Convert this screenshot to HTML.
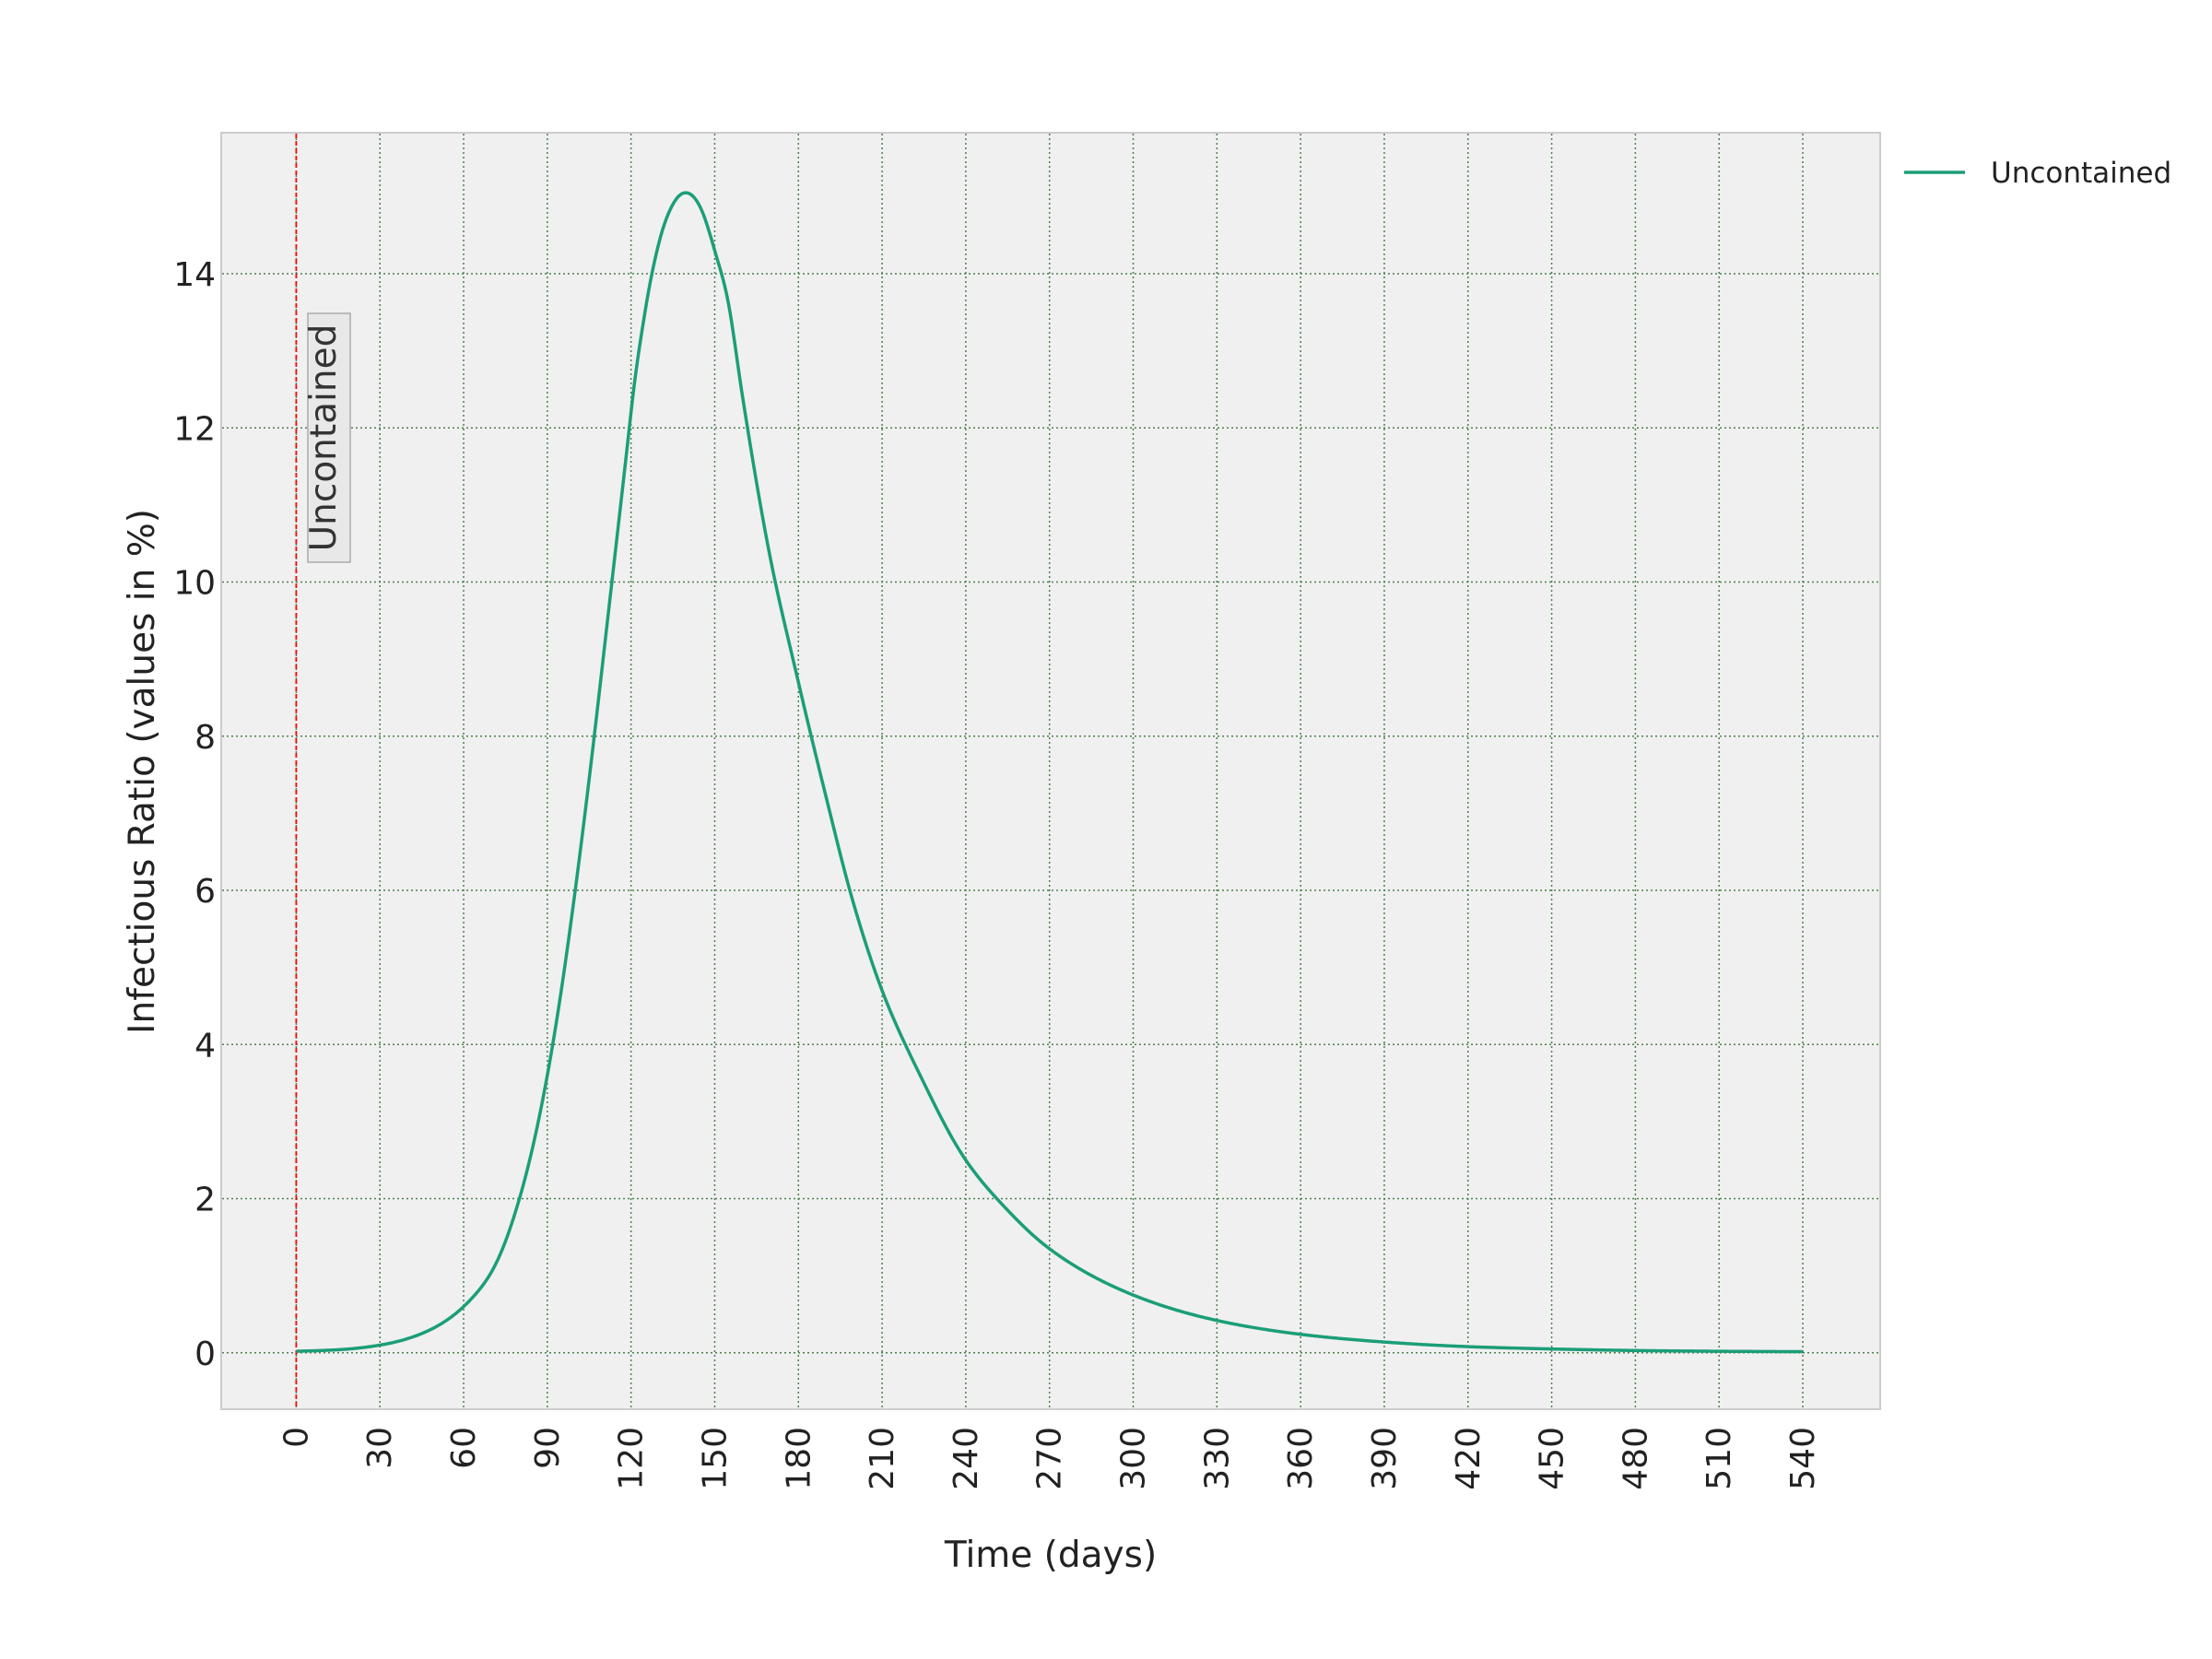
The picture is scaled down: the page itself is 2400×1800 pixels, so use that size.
<!DOCTYPE html>
<html><head><meta charset="utf-8"><style>
html,body{margin:0;padding:0;background:#fff;}
svg{display:block;font-family:"DejaVu Sans","Liberation Sans",sans-serif;}
</style></head><body>
<svg id="chart" width="2400" height="1800" viewBox="0 0 2400 1800" xmlns="http://www.w3.org/2000/svg">
<rect x="240" y="144" width="1800" height="1385" fill="#f0f0f0" stroke="#cccccc" stroke-width="2"/>
<g id="grid"></g>
<g id="ticks"></g>
<line id="marker" stroke="#ff0000" stroke-width="1.8" stroke-dasharray="5,3"/>
<g>
<rect x="334" y="340" width="46" height="270" fill="#e8e8e8" stroke="#aaaaaa" stroke-width="1.5"/>
<text x="370" y="475" font-size="39" fill="#333" text-anchor="middle" transform="rotate(-90 370 475)" dy="-6">Uncontained</text>
</g>
<path id="curve" fill="none" stroke="#1b9e77" stroke-width="3.5"/>
<text x="153" y="837" font-size="39" fill="#222" text-anchor="middle" transform="rotate(-90 153 837)" dy="14">Infectious Ratio (values in %)</text>
<text x="1140" y="1700" font-size="39" fill="#222" text-anchor="middle">Time (days)</text>
<g>
<line x1="2066" y1="187" x2="2132" y2="187" stroke="#1b9e77" stroke-width="3.5"/>
<text x="2160" y="198" font-size="31" fill="#222">Uncontained</text>
</g>
</svg>
<script>
const days=[0,15,30,45,60,70,80,90,100,110,120,125,130,135,140,145,150,155,160,170,180,190,200,210,225,240,255,270,300,330,360,390,420,450,480,510,540];
const values=[0.02,0.04,0.1,0.25,0.6,1.05,2.0,3.6,6.0,9.0,12.2,13.5,14.4,14.9,15.05,14.85,14.3,13.6,12.4,10.3,8.7,7.2,5.8,4.7,3.5,2.5,1.85,1.35,0.75,0.42,0.24,0.14,0.08,0.05,0.03,0.02,0.015];
const xTicks=[0,30,60,90,120,150,180,210,240,270,300,330,360,390,420,450,480,510,540];
const yTicks=[0,2,4,6,8,10,12,14];
const NS="http://www.w3.org/2000/svg";
function xs(d){return 321.4+(d/540)*(1956-321.4);}
function ys(v){return 1467.8-(v/14)*(1467.8-297);}
const grid=document.getElementById('grid'),ticks=document.getElementById('ticks');
function mk(tag,attrs,parent){const e=document.createElementNS(NS,tag);for(const k in attrs)e.setAttribute(k,attrs[k]);parent.appendChild(e);return e;}
xTicks.forEach(t=>{
 const l=mk('line',{x1:xs(t),x2:xs(t),y1:145,y2:1528,stroke:'#4f7f4f','stroke-width':1.5,'stroke-dasharray':'2,3'},grid);
 
 
 const x=xs(t),y=1548;
 const tx=mk('text',{x:x,y:y,'font-size':36,fill:'#222','text-anchor':'end',transform:`rotate(-90 ${x} ${y})`,dy:12},ticks);
 tx.textContent=t;
 
 
});
yTicks.forEach(t=>{
 const l=mk('line',{x1:241,x2:2039,y1:ys(t),y2:ys(t),stroke:'#4f7f4f','stroke-width':1.5,'stroke-dasharray':'2,3'},grid);
 
 
 const tx=mk('text',{x:234,y:ys(t)+13,'font-size':36,fill:'#222','text-anchor':'end'},ticks);
 tx.textContent=t;
 
 
});
const m=document.getElementById('marker');
m.setAttribute('x1',xs(0));m.setAttribute('x2',xs(0));m.setAttribute('y1',145);m.setAttribute('y2',1528);
// Hermite interpolation in log space, densely sampled
const n=days.length,lv=values.map(v=>Math.log(v));
const slope=[];
for(let i=0;i<n;i++){const a=Math.max(0,i-1),b=Math.min(n-1,i+1);slope.push((lv[b]-lv[a])/(days[b]-days[a]));}
let pts=[];
for(let i=0;i<n-1;i++){
 const h=days[i+1]-days[i];
 const steps=Math.max(4,Math.round(h*2));
 for(let k=0;k<steps;k++){
  const t=k/steps,t2=t*t,t3=t2*t;
  const v=(2*t3-3*t2+1)*lv[i]+(t3-2*t2+t)*h*slope[i]+(-2*t3+3*t2)*lv[i+1]+(t3-t2)*h*slope[i+1];
  pts.push([xs(days[i]+t*h),ys(Math.exp(v))]);
 }
}
pts.push([xs(days[n-1]),ys(values[n-1])]);
document.getElementById('curve').setAttribute('d','M'+pts.map(p=>p[0].toFixed(2)+','+p[1].toFixed(2)).join(' L'));
</script>
</body></html>
